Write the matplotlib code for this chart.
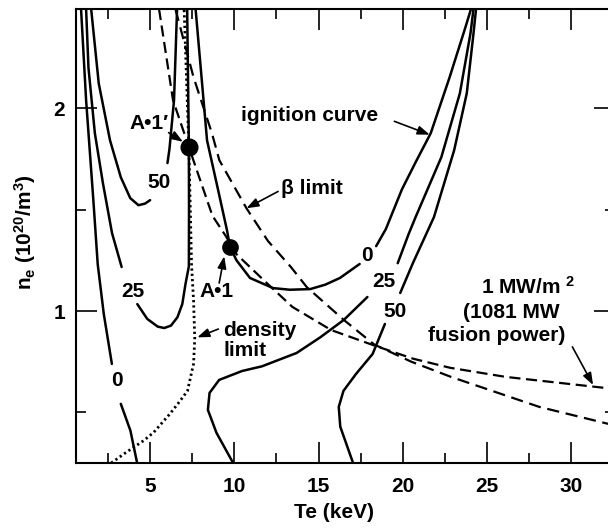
import numpy as np
import matplotlib
matplotlib.use('Agg')
import matplotlib.pyplot as plt

nan = np.nan

# auxiliary power contours (MW) in the (Te [keV], ne [1e20/m^3]) plane
# nan marks the break where the contour value is written
p0_ohmic_te = [0.9, 1.2, 1.63, 1.89, 2.25, 2.73, nan, 3.26, 3.83, 4.23]
p0_ohmic_ne = [2.49, 2.04, 1.547, 1.23, 0.985, 0.739, nan, 0.542, 0.41, 0.25]

p25_left_te = [1.2, 1.34, 1.72, 2.2, 2.74, 3.31, nan, 4.24, 4.83, 5.45, 5.84,
               6.24, 6.62, 6.91, 7.1, 7.3, 7.31, 7.3, 7.2]
p25_left_ne = [2.49, 2.2, 1.877, 1.63, 1.384, 1.217, nan, 1.034, 0.961, 0.923,
               0.916, 0.928, 0.969, 1.034, 1.133, 1.22, 1.5, 1.81, 2.49]

p50_left_te = [1.5, 1.95, 2.62, 3.26, 3.82, 4.31, 4.7, 5.0, nan, 6.03, 6.15, 6.42, 6.6]
p50_left_ne = [2.49, 2.123, 1.842, 1.66, 1.557, 1.522, 1.53, 1.547, nan, 1.73, 1.80, 2.04, 2.49]

ign_te = [7.7, 8.38, 9.04, 9.56, 9.75, 10.13, 10.93, 12.3, 13.3, 14.5, 15.4, 16.27,
          17.44, nan, 18.42, 19.0, 19.95, 20.8, 21.66, 22.78, 23.72, 24.05]
ign_ne = [2.49, 1.842, 1.596, 1.40, 1.315, 1.25, 1.163, 1.113, 1.105, 1.108, 1.13, 1.163,
          1.232, nan, 1.32, 1.405, 1.6, 1.74, 1.877, 2.153, 2.4, 2.49]

p25_right_te = [9.93, 8.94, 8.43, 8.53, 9.1, 10.46, 11.64, 13.7, 15.1, 16.5, 17.9, nan,
                19.7, 20.35, 20.76, 22.29, 23.39, 24.02, 24.2]
p25_right_ne = [0.25, 0.399, 0.512, 0.596, 0.66, 0.704, 0.727, 0.793, 0.87, 0.956, 1.069, nan,
                1.236, 1.38, 1.463, 1.759, 2.074, 2.37, 2.49]

p50_right_te = [17.05, 16.29, 16.2, 16.48, 17.23, 18.21, 18.94, nan, 19.85, 20.6, 21.85,
                23.05, 23.8, 24.2, 24.35]
p50_right_ne = [0.25, 0.429, 0.527, 0.606, 0.69, 0.788, 0.936, nan, 1.089, 1.236, 1.463,
                1.793, 2.074, 2.37, 2.49]

# density limit
dens_te = [2.69, 3.62, 4.61, 5.2, 6.18, 6.74, 7.22, 7.58, 7.65, 7.58, 7.46, 7.3, 7.02]
dens_ne = [0.25, 0.305, 0.36, 0.40, 0.493, 0.552, 0.606, 0.74, 0.862, 1.05, 1.23, 1.81, 2.49]

# 1 MW/m^2 wall load (1081 MW fusion power)
fus_te = [5.53, 6.36, 7.30, 7.63, 8.7, 9.49, 10.13, 11.9, 13.45, 15.75, 18.3, 20.6,
          22.8, 26.1, 32.6]
fus_ne = [2.49, 2.04, 1.81, 1.729, 1.47, 1.37, 1.28, 1.14, 1.02, 0.906, 0.83, 0.765,
          0.72, 0.675, 0.615]

# beta limit
beta_te = [6.5, 7.58, 8.67, 9.11, 10.72, 12.0, 13.36, 14.3, 16.5, 18.3, 20.5, 22.86, 28.1, 32.6]
beta_ne = [2.49, 2.153, 1.877, 1.744, 1.507, 1.345, 1.217, 1.118, 0.956, 0.835, 0.75,
           0.675, 0.527, 0.435]

# operating points
pt_names = ['A\u20221\u2032', 'A\u20221']
pt_te = [7.32, 9.75]
pt_ne = [1.81, 1.315]

xticks = [5, 10, 15, 20, 25, 30]
yticks = [1, 2]

plt.rcParams['font.family'] = ['Liberation Sans', 'DejaVu Sans']
plt.rcParams['font.weight'] = 'bold'
plt.rcParams['mathtext.fontset'] = 'custom'
plt.rcParams['mathtext.rm'] = 'Liberation Sans:bold'
plt.rcParams['mathtext.it'] = 'Liberation Sans:bold'
plt.rcParams['mathtext.bf'] = 'Liberation Sans:bold'

FS = 15

fig = plt.figure(figsize=(6.08, 5.28), dpi=100)
# right edge of the frame sits just past the figure border
ax = fig.add_axes([0.125, 0.1231, 0.8865, 0.8598])

solid = dict(color='k', lw=1.8, solid_capstyle='round')
for te, ne in [(p0_ohmic_te, p0_ohmic_ne), (p25_left_te, p25_left_ne),
               (p50_left_te, p50_left_ne), (ign_te, ign_ne),
               (p25_right_te, p25_right_ne), (p50_right_te, p50_right_ne)]:
    ax.plot(te, ne, **solid)

ax.plot(dens_te, dens_ne, color='k', lw=2.0, linestyle=(0, (0.8, 1.1)))
ax.plot(fus_te, fus_ne, color='k', lw=1.6, dashes=(5, 2.5))
ax.plot(beta_te, beta_ne, color='k', lw=1.6, dashes=(5.5, 3))

ax.plot(pt_te[0], pt_ne[0], 'o', color='k', ms=12)
ax.plot(pt_te[1], pt_ne[1], 'o', color='k', ms=11)

# contour values
for s, te, ne in [('0', 3.05, 0.655), ('25', 3.95, 1.094), ('50', 5.52, 1.635),
                  ('0', 17.86, 1.276), ('25', 18.89, 1.148), ('50', 19.52, 1.0)]:
    ax.text(te, ne, s, fontsize=FS, ha='center', va='center')

arrow = dict(arrowstyle='-|>,head_length=0.6,head_width=0.22', color='k', lw=1.2,
             shrinkA=0, shrinkB=0, mutation_scale=12)

ax.text(10.42, 1.966, 'ignition curve', fontsize=FS, ha='left', va='center')
ax.annotate('', xy=(21.6, 1.87), xytext=(19.5, 1.936), arrowprops=arrow)

ax.text(12.77, 1.606, '\u03b2 limit', fontsize=FS, ha='left', va='center')
ax.annotate('', xy=(10.72, 1.507), xytext=(12.6, 1.59), arrowprops=arrow)

ax.text(4.94, 1.926, pt_names[0], fontsize=FS, ha='center', va='center')
ax.annotate('', xy=(6.95, 1.835), xytext=(6.1, 1.88), arrowprops=arrow)

ax.text(8.93, 1.094, pt_names[1], fontsize=FS, ha='center', va='center')
ax.annotate('', xy=(9.4, 1.27), xytext=(9.1, 1.138), arrowprops=arrow)

ax.text(9.34, 0.855, 'density\nlimit', fontsize=FS, ha='left', va='center',
        linespacing=1.05)
ax.annotate('', xy=(7.8, 0.87), xytext=(9.05, 0.911), arrowprops=arrow)

ax.text(27.44, 1.118, r'1 MW/m $^{\mathregular{2}}$', fontsize=FS, ha='center', va='center')
ax.text(26.47, 0.995, '(1081 MW', fontsize=FS, ha='center', va='center')
ax.text(25.55, 0.877, 'fusion power)', fontsize=FS, ha='center', va='center')
ax.annotate('', xy=(31.3, 0.635), xytext=(30.07, 0.823), arrowprops=arrow)

ax.set_xlim(0.6, 32.6)
ax.set_ylim(0.25, 2.49)
ax.set_xticks(xticks)
ax.set_xticks(np.arange(2.5, 33, 5), minor=True)
ax.set_yticks(yticks)
ax.set_yticks([0.5, 1.5], minor=True)
ax.tick_params(which='both', direction='in', top=True, right=True, width=1.2)
ax.tick_params(which='major', length=15, labelsize=FS)
ax.tick_params(which='minor', length=7.5)
ax.tick_params(axis='x', pad=10)
ax.tick_params(axis='y', pad=8)
for sp in ax.spines.values():
    sp.set_linewidth(1.5)

fig.text(334 / 608, 1 - 513 / 528, 'Te (keV)', fontsize=FS, ha='center', va='center')
fig.text(25 / 608, 1 - 232 / 528,
         r'n$_{\mathregular{e}}$ (10$^{\mathregular{20}}$/m$^{\mathregular{3}}$)',
         fontsize=FS, rotation=90, ha='center', va='center')

fig.savefig('out.png', dpi=100)
